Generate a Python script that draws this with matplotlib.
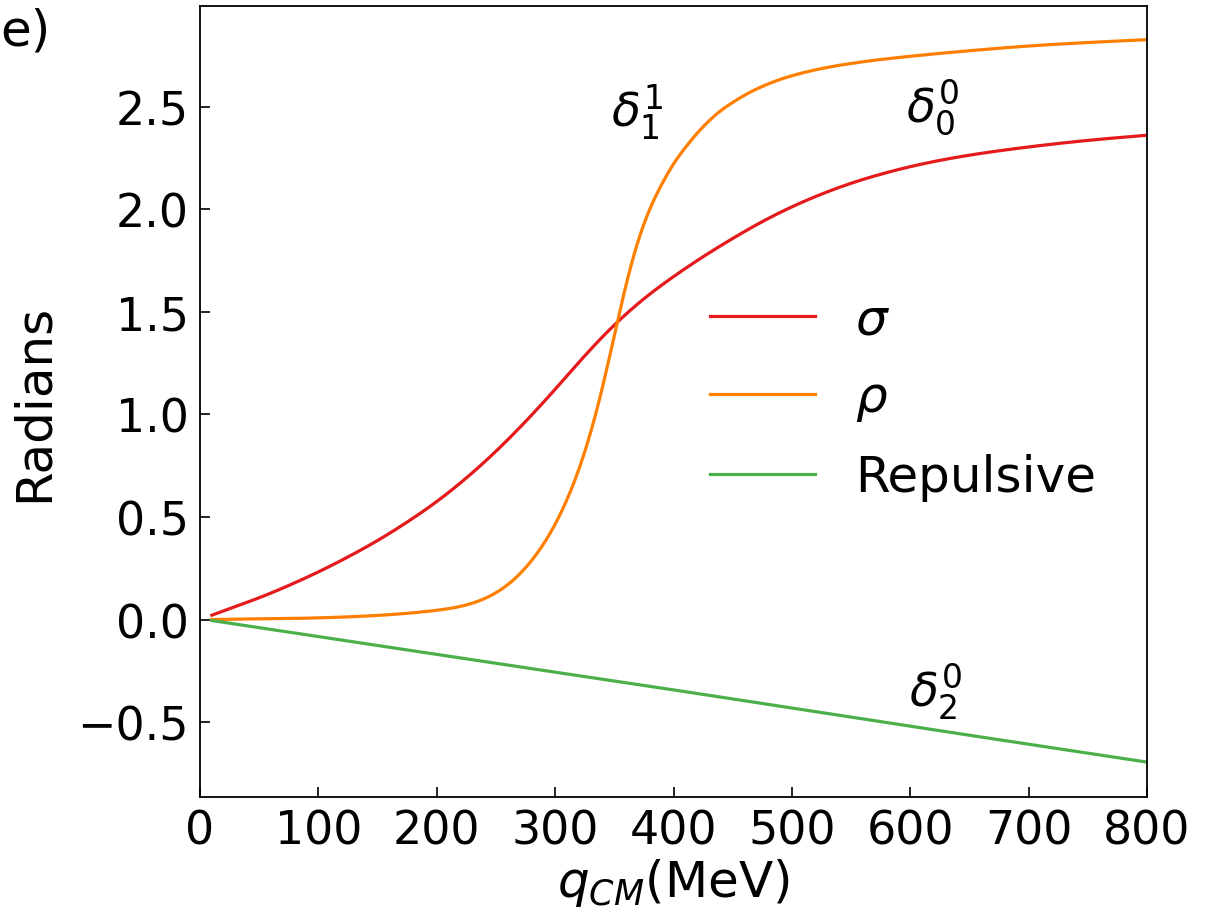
import matplotlib
matplotlib.use("Agg")
import matplotlib.pyplot as plt
import numpy as np

# q_CM (MeV) and phase shifts (radians)
q_sigma = [10, 25, 50, 75, 100, 125, 150, 175, 200, 225, 250, 275, 300, 325, 350, 375, 400,
           425, 450, 475, 500, 525, 550, 575, 600, 650, 700, 750, 800]
d_sigma = [0.021, 0.053, 0.106, 0.166, 0.232, 0.305, 0.385, 0.475, 0.575, 0.69, 0.82, 0.965,
           1.122, 1.285, 1.435, 1.563, 1.671, 1.768, 1.857, 1.939, 2.011, 2.073, 2.126, 2.17,
           2.207, 2.263, 2.303, 2.335, 2.36]

q_rho = [10, 50, 100, 150, 200, 210, 220, 230, 240, 250, 260, 270, 280, 290, 300, 310, 320, 330,
         340, 350, 360, 370, 380, 390, 400, 410, 420, 430, 440, 450, 460, 470, 480, 490, 500,
         525, 550, 600, 650, 700, 750, 800]
d_rho = [0.0, 0.003, 0.008, 0.02, 0.045, 0.053, 0.064, 0.0795, 0.101, 0.1305, 0.17, 0.2215,
         0.2865, 0.3665, 0.4645, 0.5845, 0.7315, 0.9125, 1.1325, 1.3835, 1.632, 1.842, 2.0, 2.12,
         2.22, 2.30, 2.37, 2.43, 2.48, 2.52, 2.555, 2.585, 2.61, 2.632, 2.65, 2.685, 2.71, 2.745,
         2.772, 2.795, 2.812, 2.826]

q_rep = [10, 200, 400, 600, 800]
d_rep = [-0.005, -0.17, -0.343, -0.52, -0.695]

labels = [r"$\sigma$", r"$\rho$", "Repulsive"]
colors = ["#e41a1c", "#ff7f00", "#4daf4a"]

fig = plt.figure(figsize=(12.08, 9.12), dpi=100)
ax = fig.add_axes([200/1208, 1-798/912, 947/1208, 791/912])

def spline(xs, ys, n=900):
    """Natural cubic spline through the read points (drawing aid only)."""
    xs = np.asarray(xs, float); ys = np.asarray(ys, float)
    N = len(xs)
    h = np.diff(xs)
    A = np.zeros((N, N)); r = np.zeros(N)
    A[0, 0] = 1; A[-1, -1] = 1
    for i in range(1, N-1):
        A[i, i-1] = h[i-1]; A[i, i] = 2*(h[i-1]+h[i]); A[i, i+1] = h[i]
        r[i] = 6*((ys[i+1]-ys[i])/h[i] - (ys[i]-ys[i-1])/h[i-1])
    M = np.linalg.solve(A, r)
    xf = np.linspace(xs[0], xs[-1], n)
    k = np.clip(np.searchsorted(xs, xf) - 1, 0, N-2)
    a = xs[k+1] - xf; b = xf - xs[k]; hk = h[k]
    yf = (M[k]*a**3 + M[k+1]*b**3)/(6*hk) + (ys[k]/hk - M[k]*hk/6)*a + (ys[k+1]/hk - M[k+1]*hk/6)*b
    return xf, yf

for (qx, dy), lab, c in zip([(q_sigma, d_sigma), (q_rho, d_rho), (q_rep, d_rep)], labels, colors):
    xf, yf = spline(qx, dy)
    ax.plot(xf, yf, color=c, lw=2.3, label=lab)

ax.set_xlim(0, 800)
ax.set_ylim(-0.865, 2.99)
ax.set_xticks([0, 100, 200, 300, 400, 500, 600, 700, 800])
ax.set_yticks([-0.5, 0.0, 0.5, 1.0, 1.5, 2.0, 2.5])
ax.set_yticklabels(["\u22120.5", "0.0", "0.5", "1.0", "1.5", "2.0", "2.5"])
ax.tick_params(direction="in", labelsize=33, length=7, width=1.2, pad=8)
for s in ax.spines.values():
    s.set_linewidth(1.3)

ax.set_xlabel(r"$q_{CM}$(MeV)", fontsize=36, labelpad=2)
ax.set_ylabel("Radians", fontsize=36, labelpad=14)

ax.text(369, 2.475, r"$\delta_1^1$", fontsize=34, ha="center", va="center")
ax.text(619, 2.50, r"$\delta_0^0$", fontsize=34, ha="center", va="center")
ax.text(621, -0.345, r"$\delta_2^0$", fontsize=34, ha="center", va="center")

ax.legend(loc="center left", bbox_to_anchor=(0.5385, 0.5044), frameon=False,
          fontsize=36, borderpad=0, borderaxespad=0, handlelength=2.1,
          handletextpad=0.8, labelspacing=0.6)

fig.text(0.0, 1-32/912, "e)", fontsize=36, ha="left", va="center")

fig.savefig("out.png", dpi=100)
